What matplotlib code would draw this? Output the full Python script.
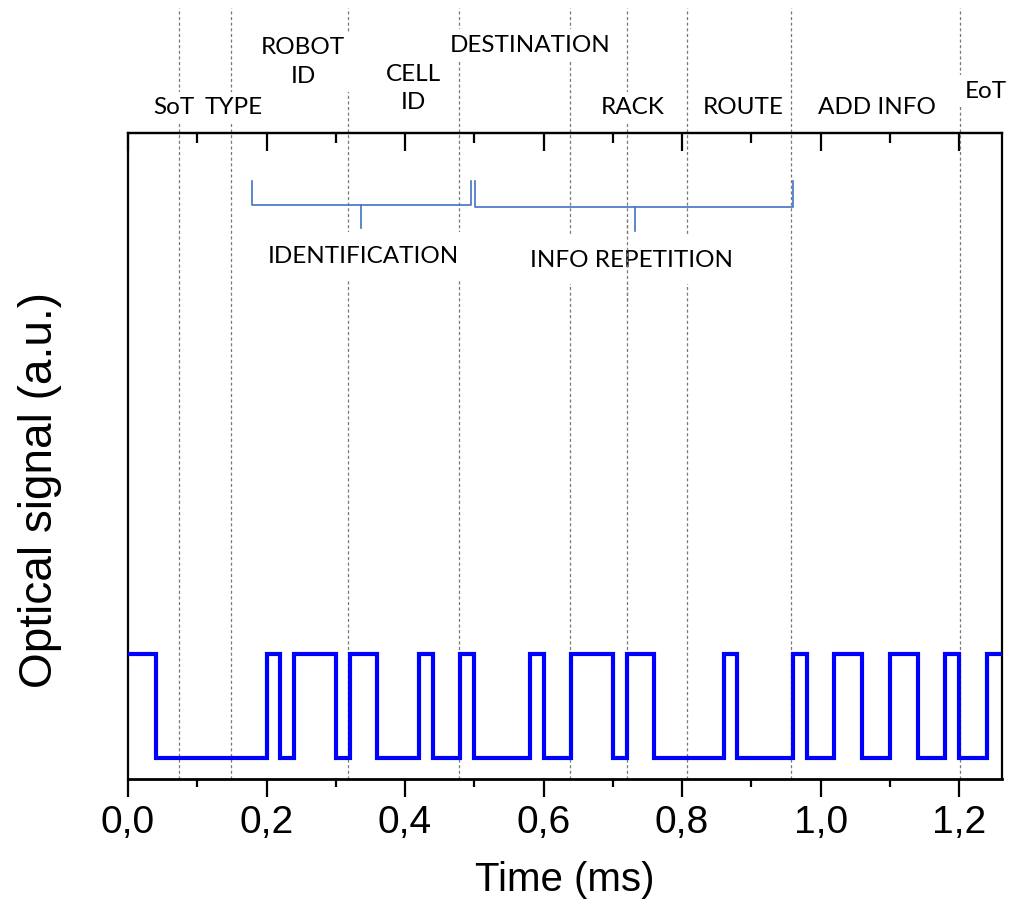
import matplotlib
matplotlib.use("Agg")
import matplotlib.pyplot as plt
from matplotlib.ticker import MultipleLocator, FuncFormatter
import matplotlib.transforms as mtransforms

# Bit stream: transition times (ms) and level held from each time onwards
edge_times = [0.00, 0.04, 0.20, 0.22, 0.24, 0.30, 0.32, 0.36, 0.42, 0.44,
              0.48, 0.50, 0.58, 0.60, 0.64, 0.70, 0.72, 0.76, 0.86, 0.88,
              0.96, 0.98, 1.02, 1.06, 1.10, 1.14, 1.18, 1.20, 1.24, 1.262]
levels = [1, 0, 1, 0, 1, 0, 1, 0, 1, 0,
          1, 0, 1, 0, 1, 0, 1, 0, 1, 0,
          1, 0, 1, 0, 1, 0, 1, 0, 1, 1]

# Field boundaries (ms)
boundaries = [0.073, 0.148, 0.318, 0.478, 0.638, 0.721, 0.807, 0.957, 1.201]

# Field names and their positions (x in ms, y in axes fraction)
field_names = ["SoT", "TYPE", "ROBOT\nID", "CELL\nID", "DESTINATION",
               "RACK", "ROUTE", "ADD INFO", "EoT"]
field_x = [0.066, 0.152, 0.253, 0.412, 0.581, 0.728, 0.888, 1.082, 1.239]
field_y = [1.039, 1.039, 1.110, 1.069, 1.136, 1.039, 1.039, 1.039, 1.065]

# Grouping brackets: (start, end, centre) in ms
group_names = ["IDENTIFICATION", "INFO REPETITION"]
group_start = [0.179, 0.501]
group_end = [0.495, 0.960]
group_mid = [0.3365, 0.732]

fig = plt.figure(figsize=(10.25, 9.11), dpi=100)
ax = fig.add_axes([0.1249, 0.1449, 0.8527, 0.7091])

ax.step(edge_times, levels, where="post", color="#0000FF", lw=3.0,
        solid_joinstyle="miter", zorder=5)

ax.set_xlim(0, 1.262)
ax.set_ylim(-0.2, 6.0)

trans = mtransforms.blended_transform_factory(ax.transData, ax.transAxes)

# Dashed field separators running from the baseline up above the frame
for b in boundaries:
    ax.plot([b, b], [0, 1.1935], transform=trans, color="#7a7a7a", lw=0.9,
            ls=(0, (2.5, 2.0)), clip_on=False, zorder=1)

label_font = dict(family=["Lato", "DejaVu Sans"], fontsize=17.5, color="black")
for name, x, y in zip(field_names, field_x, field_y):
    ax.text(x, y, name, transform=trans, ha="center", va="center",
            linespacing=1.45, zorder=3,
            bbox=dict(facecolor="white", edgecolor="none", pad=4),
            **label_font)

# Brackets
bcol = "#4472C4"
br_top = 0.9257
br_bar = [0.8885, 0.8854]
br_tip = [0.853, 0.848]
for s, e, m, bar, tip in zip(group_start, group_end, group_mid, br_bar, br_tip):
    ax.plot([s, s, e, e], [br_top, bar, bar, br_top], transform=trans,
            color=bcol, lw=1.2, clip_on=False, zorder=4)
    ax.plot([m, m], [bar, tip], transform=trans, color=bcol, lw=1.2,
            clip_on=False, zorder=4)

group_y = [0.8096, 0.8034]
group_x = [0.3394, 0.7264]
for name, x, y in zip(group_names, group_x, group_y):
    ax.text(x, y, name, transform=trans, ha="center", va="center", zorder=3,
            bbox=dict(facecolor="white", edgecolor="none", pad=10),
            **label_font)

# The RACK boundary line shows through the INFO REPETITION label
ax.plot([boundaries[5]] * 2, [0.74, 0.87], transform=trans, color="#7a7a7a",
        lw=0.9, ls=(0, (2.5, 2.0)), zorder=3.5)

# Axes styling
for side in ["left", "right", "top"]:
    ax.spines[side].set_linewidth(1.6)
ax.spines["bottom"].set_linewidth(2.0)

ax.xaxis.set_major_locator(MultipleLocator(0.2))
ax.xaxis.set_minor_locator(MultipleLocator(0.1))
ax.xaxis.set_major_formatter(FuncFormatter(lambda v, p: f"{v:.1f}".replace(".", ",")))
ax.tick_params(axis="x", which="major", direction="out", length=13, width=1.6,
               labelsize=28, pad=6)
ax.tick_params(axis="x", which="minor", direction="out", length=6, width=1.6)
ax.set_yticks([])

# Inward ticks along the top edge
top = ax.secondary_xaxis("top")
top.xaxis.set_major_locator(MultipleLocator(0.2))
top.xaxis.set_minor_locator(MultipleLocator(0.1))
top.tick_params(axis="x", which="major", direction="in", length=13, width=1.6,
                labeltop=False)
top.tick_params(axis="x", which="minor", direction="in", length=7, width=1.6)
top.spines["top"].set_linewidth(1.6)

for lab in ax.get_xticklabels():
    lab.set_family(["Liberation Sans", "DejaVu Sans"])

ax.set_xlabel("Time (ms)", fontsize=29, family=["Liberation Sans", "DejaVu Sans"],
              labelpad=14)
ax.set_ylabel("Optical signal (a.u.)", fontsize=33,
              family=["Liberation Sans", "DejaVu Sans"])
ax.yaxis.set_label_coords(-0.075, 0.447)

fig.savefig("out.png", dpi=100, facecolor="white")
